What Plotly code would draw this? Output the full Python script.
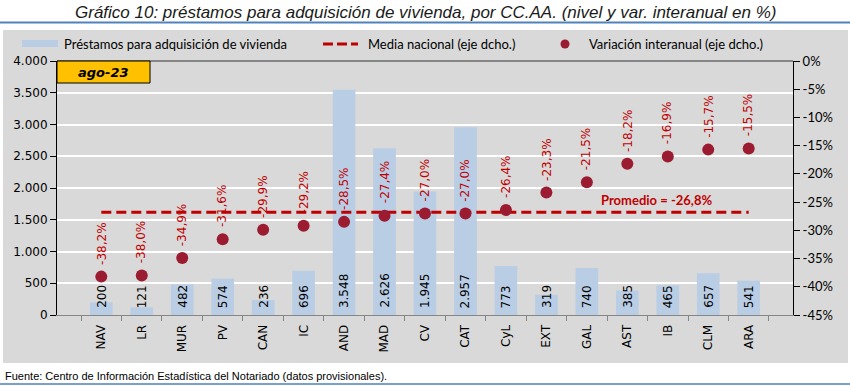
import plotly.graph_objects as go

categories = ["NAV", "LR", "MUR", "PV", "CAN", "IC", "AND", "MAD", "CV", "CAT",
              "CyL", "EXT", "GAL", "AST", "IB", "CLM", "ARA"]
prestamos = [200, 121, 482, 574, 236, 696, 3548, 2626, 1945, 2957,
             773, 319, 740, 385, 465, 657, 541]
variacion = [-38.2, -38.0, -34.9, -31.6, -29.9, -29.2, -28.5, -27.4, -27.0, -27.0,
             -26.4, -23.3, -21.5, -18.2, -16.9, -15.7, -15.5]
media_nacional = -26.8
left_ticks = [0, 500, 1000, 1500, 2000, 2500, 3000, 3500, 4000]
right_ticks = [0, -5, -10, -15, -20, -25, -30, -35, -40, -45]

W, H = 850, 386
def px(x): return x / W
def py(y): return 1 - y / H

def fmt_int(v):
    return f"{v:,}".replace(",", ".")

def fmt_pct(v):
    return f"{v:.1f}%".replace(".", ",")

TAH = "DejaVu Sans"
CAL = "Lato"
RED = "#C00000"
DOT = "#9B1B30"

fig = go.Figure()

fig.add_trace(go.Bar(
    x=categories, y=prestamos, marker=dict(color="#B9CDE5", line=dict(width=0)),
    width=0.56, name="Préstamos para adquisición de vivienda", yaxis="y",
))
fig.add_trace(go.Scatter(
    x=categories, y=[media_nacional] * len(categories), mode="lines",
    line=dict(color=RED, width=3, dash="10px,5px"),
    name="Media nacional (eje dcho.)", yaxis="y2",
))
fig.add_trace(go.Scatter(
    x=categories, y=variacion, mode="markers",
    marker=dict(color=DOT, size=12, line=dict(width=0)),
    name="Variación interanual (eje dcho.)", yaxis="y2",
))

annotations = []
for c, v in zip(categories, variacion):
    annotations.append(dict(
        x=c, y=v, xref="x", yref="y2", text=fmt_pct(v), textangle=-90,
        showarrow=False, yanchor="bottom", xanchor="center", yshift=10,
        font=dict(family=TAH, size=12, color=RED),
    ))
for c, v in zip(categories, prestamos):
    annotations.append(dict(
        x=c, y=0, xref="x", yref="y", text=fmt_int(v), textangle=-90,
        showarrow=False, yanchor="bottom", xanchor="center", yshift=5,
        font=dict(family=TAH, size=12, color="black"),
    ))

annotations.append(dict(
    x=px(656), y=media_nacional, xref="paper", yref="y2",
    text="<b>Promedio = " + fmt_pct(media_nacional) + "</b>",
    showarrow=False, yanchor="bottom", xanchor="center", yshift=2,
    font=dict(family=CAL, size=13, color=RED),
))
annotations.append(dict(
    x=px(103.5), y=py(72), xref="paper", yref="paper",
    text="<b><i>ago-23</i></b>", showarrow=False,
    xanchor="center", yanchor="middle",
    font=dict(family=TAH, size=13, color="black"),
))
annotations.append(dict(
    x=0.5, y=py(12), xref="paper", yref="paper",
    text="<i>Gráfico 10: préstamos para adquisición de vivienda, por CC.AA. (nivel y var. interanual en %)</i>",
    showarrow=False, xanchor="center", yanchor="middle",
    font=dict(family="Liberation Sans", size=17, color="#1a1a1a"),
))
annotations.append(dict(
    x=px(3), y=py(376), xref="paper", yref="paper",
    text="Fuente: Centro de Información Estadística del Notariado (datos provisionales).",
    showarrow=False, xanchor="left", yanchor="middle",
    font=dict(family="Liberation Sans", size=11, color="black"),
))
for x0, t in [(62, "Préstamos para adquisición de vivienda"),
              (366, "Media nacional (eje dcho.)"),
              (587, "Variación interanual (eje dcho.)")]:
    annotations.append(dict(
        x=px(x0), y=py(44), xref="paper", yref="paper", text=t,
        showarrow=False, xanchor="left", yanchor="middle",
        font=dict(family=CAL, size=13, color="black"),
    ))

shapes = [
    dict(type="rect", xref="paper", yref="paper", x0=px(3), x1=px(848),
         y0=py(363), y1=py(30), fillcolor="#D9D9D9", line=dict(width=0), layer="below"),
    dict(type="line", xref="paper", yref="paper", x0=0, x1=1, y0=py(22.5), y1=py(22.5),
         line=dict(color="#4F81BD", width=2)),
    dict(type="line", xref="paper", yref="paper", x0=0, x1=1, y0=py(384), y1=py(384),
         line=dict(color="#4F81BD", width=1.5)),
    dict(type="line", xref="paper", yref="paper", x0=px(57), x1=px(793), y0=py(61), y1=py(61),
         line=dict(color="#333333", width=1)),
    dict(type="rect", xref="paper", yref="paper", x0=px(57), x1=px(150),
         y0=py(83), y1=py(61), fillcolor="#FFC000", line=dict(color="black", width=1)),
    dict(type="rect", xref="paper", yref="paper", x0=px(22), x1=px(58),
         y0=py(47), y1=py(40), fillcolor="#B9CDE5", line=dict(width=0)),
    dict(type="line", xref="paper", yref="paper", x0=px(323), x1=px(358),
         y0=py(44), y1=py(44), line=dict(color=RED, width=3, dash="10px,4px")),
    dict(type="circle", xref="paper", yref="paper", x0=px(560.5), x1=px(569.5),
         y0=py(48.5), y1=py(39.5), fillcolor=DOT, line=dict(width=0)),
]

fig.update_layout(
    width=W, height=H, margin=dict(l=0, r=0, t=0, b=0, pad=0, autoexpand=False),
    paper_bgcolor="white", plot_bgcolor="#D9D9D9",
    separators=",.", showlegend=False, bargap=0.44,
    annotations=annotations, shapes=shapes,
    xaxis=dict(
        domain=[px(57), px(793)], type="category", categoryorder="array",
        categoryarray=categories, tickangle=-90, automargin=False,
        tickfont=dict(family=TAH, size=12, color="black"), ticklabelstandoff=4,
        showline=True, linecolor="#868686", linewidth=1,
        ticks="outside", tickson="boundaries", ticklen=5, tickcolor="#868686",
        showgrid=False, zeroline=False, fixedrange=True,
    ),
    yaxis=dict(
        domain=[py(315), py(61)], range=[0, 4000], tickvals=left_ticks,
        ticktext=[fmt_int(v) for v in left_ticks], automargin=False,
        tickfont=dict(family=TAH, size=12, color="black"),
        showline=True, linecolor="black", linewidth=1,
        ticks="outside", ticklen=6, tickcolor="black",
        showgrid=True, gridcolor="white", gridwidth=2, zeroline=False,
        fixedrange=True,
    ),
    yaxis2=dict(
        domain=[py(315), py(61)], range=[-45, 0], overlaying="y", side="right",
        anchor="x", tickvals=right_ticks, automargin=False,
        ticktext=[f"{v}%" for v in right_ticks],
        tickfont=dict(family=CAL, size=13, color="black"),
        showline=True, linecolor="black", linewidth=1,
        ticks="outside", ticklen=6, tickcolor="black",
        showgrid=False, zeroline=False, fixedrange=True,
    ),
)

css_fix = (
    "var s=document.createElement('style');"
    "s.textContent='html,body{margin:0;padding:0;overflow:hidden;background:#ffffff;}';"
    "document.head.appendChild(s);"
)

fig.write_html("out.html", config={"displayModeBar": False}, post_script=css_fix)
